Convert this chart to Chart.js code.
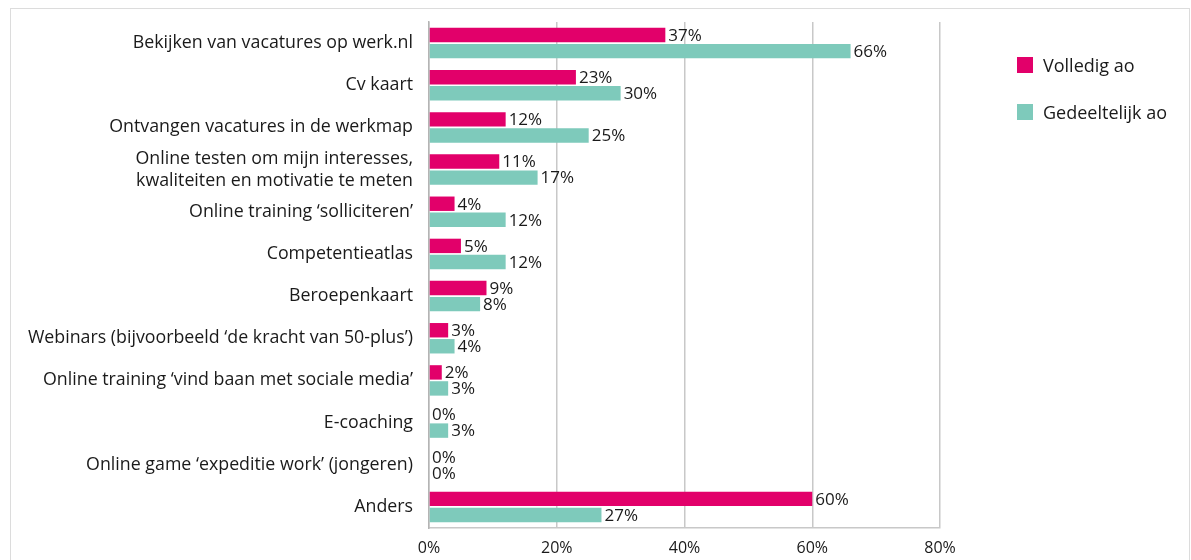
<!DOCTYPE html>
<html>
<head>
<meta charset="utf-8">
<script src="https://cdn.jsdelivr.net/npm/chart.js@4"></script>
<style>
  body { margin: 0; background: #fff; font-family: "Open Sans", sans-serif; }
  #frame { position: absolute; left: 10px; top: 8px; width: 1178px; height: 560px; border: 1px solid #dcdcdc; border-bottom: none; }
  #wrap { position: absolute; left: 0; top: 0; width: 1191px; height: 560px; }
  #legend { position: absolute; left: 1017px; top: 54px; }
  .item { display: flex; align-items: center; height: 22px; margin-bottom: 25px; font-size: 18px; color: #1a1a1a; }
  .box { width: 16px; height: 16px; margin-right: 10px; }
</style>
</head>
<body>
<div id="frame"></div>
<div id="wrap"><canvas id="chart" width="1191" height="560"></canvas></div>
<div id="legend"></div>
<script>
const categories = [
  'Bekijken van vacatures op werk.nl',
  'Cv kaart',
  'Ontvangen vacatures in de werkmap',
  ['Online testen om mijn interesses,', 'kwaliteiten en motivatie te meten'],
  'Online training \u2018solliciteren\u2019',
  'Competentieatlas',
  'Beroepenkaart',
  'Webinars (bijvoorbeeld \u2018de kracht van 50-plus\u2019)',
  'Online training \u2018vind baan met sociale media\u2019',
  'E-coaching',
  'Online game \u2018expeditie work\u2019 (jongeren)',
  'Anders'
];
const volledig = [37, 23, 12, 11, 4, 5, 9, 3, 2, 0, 0, 60];
const gedeeltelijk = [66, 30, 25, 17, 12, 12, 8, 4, 3, 3, 0, 27];
const seriesNames = ['Volledig ao', 'Gedeeltelijk ao'];
const seriesColors = ['#e2006a', '#7ecabb'];
const xTicks = [0, 20, 40, 60, 80];

// legend
const legend = document.getElementById('legend');
seriesNames.forEach((name, i) => {
  const el = document.createElement('div');
  el.className = 'item';
  el.innerHTML = '<div class="box" style="background:' + seriesColors[i] + '"></div>' + name;
  legend.appendChild(el);
});

const valueLabels = {
  id: 'valueLabels',
  afterDatasetsDraw(chart) {
    const ctx = chart.ctx;
    ctx.save();
    ctx.font = '17px "Open Sans", sans-serif';
    ctx.fillStyle = '#1a1a1a';
    ctx.textAlign = 'left';
    ctx.textBaseline = 'middle';
    chart.data.datasets.forEach((ds, di) => {
      chart.getDatasetMeta(di).data.forEach((bar, i) => {
        ctx.fillText(ds.data[i] + '%', bar.x + 3, bar.y + 1);
      });
    });
    ctx.restore();
  }
};

new Chart(document.getElementById('chart'), {
  type: 'bar',
  data: {
    labels: categories,
    datasets: [
      { label: seriesNames[0], data: volledig, backgroundColor: seriesColors[0] },
      { label: seriesNames[1], data: gedeeltelijk, backgroundColor: seriesColors[1] }
    ]
  },
  options: {
    indexAxis: 'y',
    responsive: false,
    animation: false,
    categoryPercentage: 0.76,
    barPercentage: 0.9,
    layout: { padding: { top: 22, right: 251, left: 0, bottom: 0 } },
    plugins: { legend: { display: false }, tooltip: { enabled: false } },
    scales: {
      x: {
        min: 0, max: 80,
        afterBuildTicks(scale) { scale.ticks = xTicks.map(v => ({ value: v })); },
        afterFit(scale) { scale.height = 32; },
        grid: { color: '#c8c8c8', lineWidth: 1.5, drawTicks: false },
        border: { color: '#c8c8c8', width: 1.5 },
        ticks: { padding: 11, color: '#1a1a1a', font: { family: '"Open Sans", sans-serif', size: 16 }, callback: v => v + '%' }
      },
      y: {
        afterFit(scale) { scale.width = 429; scale.paddingTop = 0; scale.paddingBottom = 0; },
        grid: { display: false, drawTicks: false },
        border: { color: '#b4b4b4', width: 1.5 },
        ticks: { autoSkip: false, padding: 16, color: '#1a1a1a', font: { family: '"Open Sans", sans-serif', size: 17.8, lineHeight: 1.22 } }
      }
    }
  },
  plugins: [valueLabels]
});
</script>
</body>
</html>
